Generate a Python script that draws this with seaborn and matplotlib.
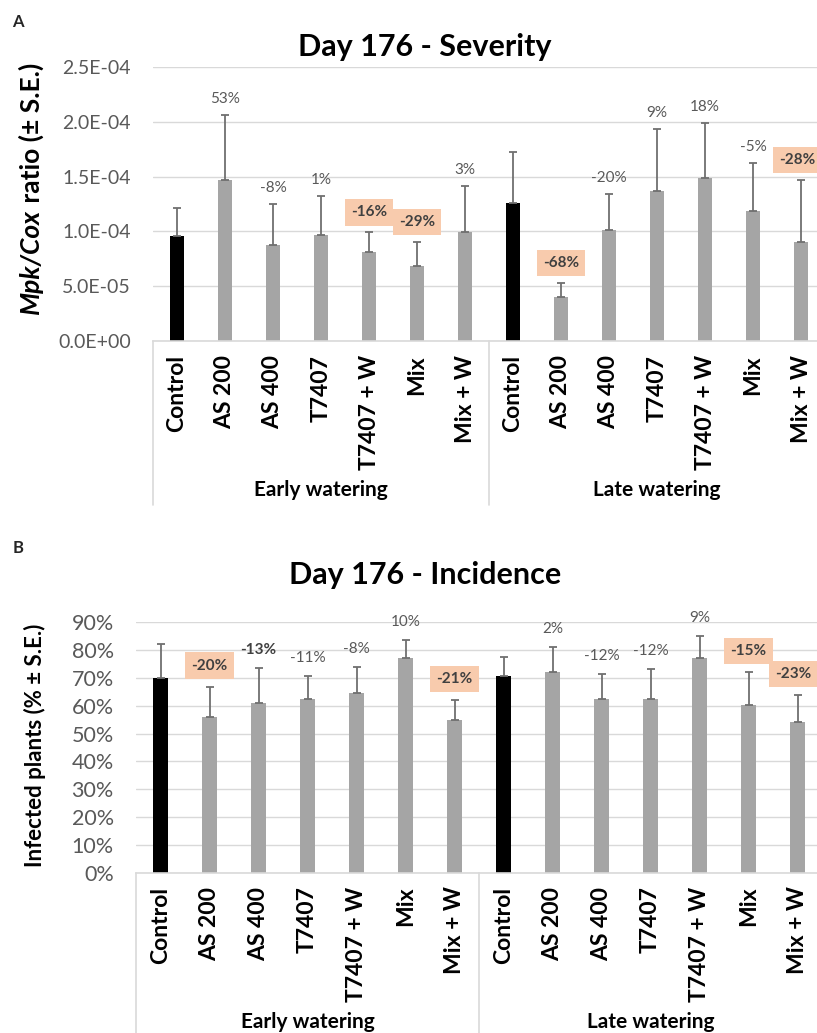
import numpy as np
import pandas as pd
import matplotlib
matplotlib.use("Agg")
import matplotlib.pyplot as plt
from matplotlib.ticker import FuncFormatter, MultipleLocator
import seaborn as sns

# ---------------- data ----------------
categories = ["Control", "AS 200", "AS 400", "T7407", "T7407 + W", "Mix", "Mix + W"]
groups = ["Early watering", "Late watering"]

sev_early = [9.6e-5, 1.47e-4, 8.8e-5, 9.7e-5, 8.1e-5, 6.8e-5, 9.9e-5]
sev_early_se = [2.5e-5, 5.9e-5, 3.7e-5, 3.5e-5, 1.8e-5, 2.2e-5, 4.2e-5]
sev_late = [1.26e-4, 4.0e-5, 1.01e-4, 1.37e-4, 1.49e-4, 1.19e-4, 9.0e-5]
sev_late_se = [4.6e-5, 1.3e-5, 3.35e-5, 5.6e-5, 5.0e-5, 4.3e-5, 5.7e-5]
sev_labels = ["", "53%", "-8%", "1%", "-16%", "-29%", "3%",
              "", "-68%", "-20%", "9%", "18%", "-5%", "-28%"]
sev_styles = ["plain", "plain", "plain", "plain", "box", "box", "plain",
              "plain", "box", "plain", "plain", "plain", "plain", "box"]

inc_early = [69.9, 56.0, 61.0, 62.4, 64.5, 77.2, 54.8]
inc_early_se = [12.4, 10.9, 12.7, 8.4, 9.5, 6.5, 7.4]
inc_late = [70.6, 72.3, 62.4, 62.4, 77.1, 60.2, 54.3]
inc_late_se = [7.1, 8.9, 9.1, 10.9, 7.8, 11.9, 9.6]
inc_labels = ["", "-20%", "-13%", "-11%", "-8%", "10%", "-21%",
              "", "2%", "-12%", "-12%", "9%", "-15%", "-23%"]
inc_styles = ["plain", "box", "bold", "plain", "plain", "plain", "box",
              "plain", "plain", "plain", "plain", "plain", "box", "box"]

# ---------------- style ----------------
sns.set_theme(style="white")
plt.rcParams["font.family"] = ["Lato", "DejaVu Sans"]

W, H = 817, 1033
fig = plt.figure(figsize=(W / 100, H / 100), dpi=100)

GRID = "#D9D9D9"
TICKC = "#595959"
BOX = "#F8CBAD"


def px_axes(left, top, right, bottom):
    return fig.add_axes([left / W, 1 - bottom / H, (right - left) / W, (bottom - top) / H])


def draw_panel(ax, early, early_se, late, late_se, labels, styles, ymax, ystep, fmt,
               tick_fs, off_plain, off_box, bar_w):
    keys = [f"{g}|{c}" for g in groups for c in categories]
    vals = list(early) + list(late)
    ses = list(early_se) + list(late_se)
    kinds = ["control" if c == "Control" else "treat" for g in groups for c in categories]
    df = pd.DataFrame({"key": keys, "value": vals, "kind": kinds})
    sns.barplot(data=df, x="key", y="value", hue="kind", order=keys,
                palette={"control": "black", "treat": "#A5A5A5"},
                dodge=False, width=bar_w, legend=False, errorbar=None, ax=ax,
                saturation=1, linewidth=0)
    x = np.arange(len(keys))
    ax.errorbar(x, vals, yerr=[np.zeros(len(ses)), ses], fmt="none",
                ecolor="#6F6F6F", elinewidth=1.3, capsize=3.2, capthick=1.3, zorder=3)
    ax.set_xlim(-0.5, len(keys) - 0.5)
    ax.set_ylim(0, ymax)
    ax.yaxis.set_major_locator(MultipleLocator(ystep))
    ax.yaxis.set_major_formatter(FuncFormatter(fmt))
    ax.yaxis.grid(True, color=GRID, lw=1)
    ax.set_axisbelow(True)
    for s in ["top", "right", "left"]:
        ax.spines[s].set_visible(False)
    ax.spines["bottom"].set_color(GRID)
    ax.spines["bottom"].set_linewidth(1.2)
    ax.set_xlabel("")
    ax.set_ylabel("")
    ax.set_xticks(x)
    ax.set_xticklabels(categories * 2, rotation=90, fontweight="bold",
                       fontsize=16.5, color="black")
    ax.tick_params(axis="x", length=0, pad=10)
    ax.tick_params(axis="y", length=0, pad=16, labelsize=tick_fs, labelcolor=TICKC)
    # group divider lines
    for xp in [-0.5, 6.5, 13.5]:
        ax.plot([xp, xp], [0, -164 / (ax.bbox.height)], transform=ax.get_xaxis_transform(),
                color=GRID, lw=1.2, clip_on=False)
    # group labels
    for gi, g in enumerate(groups):
        ax.annotate(g, xy=(gi * 7 + 3, 0), xycoords=("data", "axes fraction"),
                    xytext=(0, -149), textcoords="offset pixels", ha="center",
                    va="center", fontsize=15, fontweight="bold", color="black",
                    annotation_clip=False)
    # percentage labels
    n = len(labels)
    for i, (lab, st) in enumerate(zip(labels, styles)):
        if not lab:
            continue
        top = vals[i] + ses[i]
        dx = -4 if i == n - 1 else 0
        if st == "box":
            ax.annotate(lab, xy=(i, top), xytext=(dx, off_box), textcoords="offset pixels",
                        ha="center", va="center", fontsize=11, fontweight="bold",
                        color="#404040", annotation_clip=False,
                        bbox=dict(boxstyle="square,pad=0.4", fc=BOX, ec="none"))
        elif st == "bold":
            ax.annotate(lab, xy=(i, top), xytext=(dx, off_plain), textcoords="offset pixels",
                        ha="center", va="center", fontsize=11, fontweight="bold",
                        color="#404040", annotation_clip=False)
        else:
            ax.annotate(lab, xy=(i, top), xytext=(dx, off_plain), textcoords="offset pixels",
                        ha="center", va="center", fontsize=11, color=TICKC,
                        annotation_clip=False)


# ---------------- panel A ----------------
ax1 = px_axes(153, 67, 825, 341)
draw_panel(ax1, sev_early, sev_early_se, sev_late, sev_late_se, sev_labels, sev_styles,
           2.5e-4, 5e-5, lambda v, p: f"{v:.1E}", 14, 16, 20, 0.31)

# ---------------- panel B ----------------
ax2 = px_axes(136, 622.3, 822, 872.7)
draw_panel(ax2, inc_early, inc_early_se, inc_late, inc_late_se, inc_labels, inc_styles,
           90, 10, lambda v, p: f"{v:.0f}%", 15.5, 18, 21, 0.32)

# ---------------- titles, labels ----------------
fig.text(425 / W, 1 - 47 / H, "Day 176 - Severity", ha="center", va="center",
         fontsize=22, fontweight="bold", color="black")
fig.text(425 / W, 1 - 575 / H, "Day 176 - Incidence", ha="center", va="center",
         fontsize=22, fontweight="bold", color="black")
fig.text(18 / W, 1 - 22 / H, "A", ha="center", va="center", fontsize=12, fontweight="bold")
fig.text(18 / W, 1 - 548 / H, "B", ha="center", va="center", fontsize=12, fontweight="bold")

t1 = fig.text(31 / W, 1 - 314 / H, "Mpk/Cox", rotation=90, ha="center", va="bottom",
              fontsize=19, fontweight="bold", fontstyle="italic", color="black")
fig.canvas.draw()
ax1.annotate(" ratio (± S.E.)", xy=(0.5, 1), xycoords=t1, rotation=90, ha="center",
             va="bottom", fontsize=19, fontweight="bold", color="black",
             annotation_clip=False)

fig.text(35 / W, 1 - 745 / H, "Infected plants (% ± S.E.)", rotation=90, ha="center",
         va="center", fontsize=16, fontweight="bold", color="black")

fig.savefig("out.png", dpi=100)
